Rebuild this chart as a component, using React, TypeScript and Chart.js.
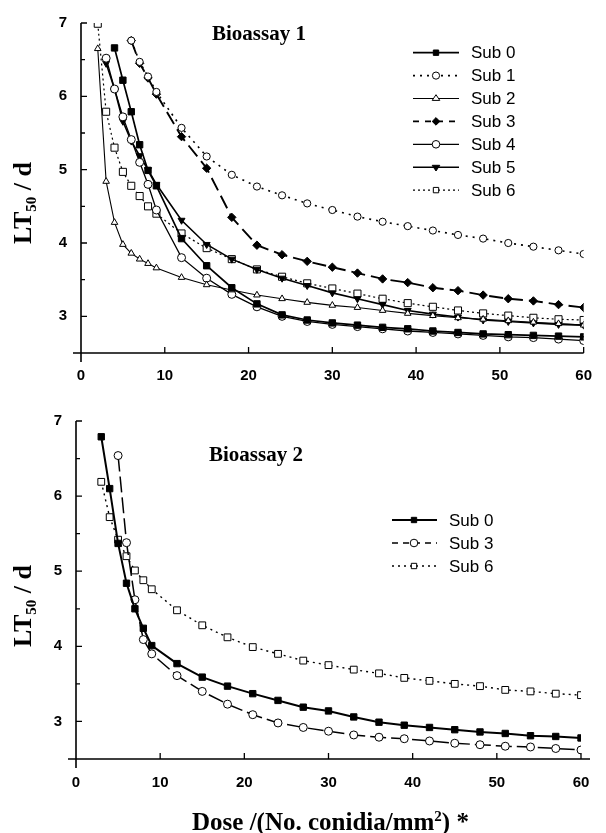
import React, { useEffect, useRef } from "react";
import { Chart, registerables } from "chart.js";
Chart.register(...registerables);

// ---------- DATA ----------
// Bioassay 1 dose grid (No. conidia/mm^2)
const doses1 = [2, 3, 4, 5, 6, 7, 8, 9, 12, 15, 18, 21, 24, 27, 30, 33, 36, 39, 42, 45, 48, 51, 54, 57, 60];
const b1Sub0 = [null, null, 6.66, 6.22, 5.79, 5.34, 4.99, 4.78, 4.06, 3.69, 3.39, 3.17, 3.02, 2.95, 2.91, 2.88, 2.85, 2.83, 2.8, 2.78, 2.76, 2.75, 2.74, 2.73, 2.72];
const b1Sub1 = [null, null, null, null, 6.76, 6.47, 6.27, 6.06, 5.57, 5.18, 4.93, 4.77, 4.65, 4.54, 4.45, 4.36, 4.29, 4.23, 4.17, 4.11, 4.06, 4.0, 3.95, 3.9, 3.85];
const b1Sub2 = [6.65, 4.84, 4.28, 3.98, 3.86, 3.78, 3.72, 3.66, 3.53, 3.43, 3.36, 3.29, 3.24, 3.19, 3.15, 3.12, 3.08, 3.04, 3.01, 2.98, 2.96, 2.94, 2.92, 2.9, 2.88];
const b1Sub3 = [null, null, null, null, 6.76, 6.45, 6.25, 6.03, 5.45, 5.02, 4.35, 3.97, 3.84, 3.75, 3.67, 3.59, 3.51, 3.46, 3.39, 3.35, 3.29, 3.24, 3.21, 3.16, 3.12];
const b1Sub4 = [null, 6.52, 6.1, 5.72, 5.41, 5.1, 4.8, 4.45, 3.8, 3.52, 3.3, 3.13, 3.0, 2.93, 2.89, 2.86, 2.83, 2.8, 2.78, 2.76, 2.74, 2.72, 2.71, 2.69, 2.67];
const b1Sub5 = [null, 6.45, 6.1, 5.66, 5.39, 5.19, 5.0, 4.8, 4.31, 3.98, 3.78, 3.64, 3.52, 3.42, 3.32, 3.24, 3.16, 3.08, 3.03, 2.99, 2.95, 2.93, 2.91, 2.89, 2.88];
const b1Sub6 = [6.99, 5.79, 5.3, 4.97, 4.78, 4.64, 4.5, 4.4, 4.13, 3.93, 3.78, 3.64, 3.54, 3.45, 3.38, 3.31, 3.24, 3.18, 3.13, 3.08, 3.04, 3.01, 2.98, 2.96, 2.95];

// Bioassay 2 dose grid
const doses2 = [3, 4, 5, 6, 7, 8, 9, 12, 15, 18, 21, 24, 27, 30, 33, 36, 39, 42, 45, 48, 51, 54, 57, 60];
const b2Sub0 = [6.79, 6.1, 5.37, 4.84, 4.5, 4.24, 4.01, 3.77, 3.59, 3.47, 3.37, 3.28, 3.19, 3.14, 3.06, 2.99, 2.95, 2.92, 2.89, 2.86, 2.84, 2.81, 2.8, 2.78];
const b2Sub3 = [null, null, 6.54, 5.38, 4.62, 4.09, 3.9, 3.61, 3.4, 3.23, 3.09, 2.98, 2.92, 2.87, 2.82, 2.79, 2.77, 2.74, 2.71, 2.69, 2.67, 2.66, 2.64, 2.62];
const b2Sub6 = [6.19, 5.72, 5.42, 5.2, 5.01, 4.88, 4.76, 4.48, 4.28, 4.12, 3.99, 3.9, 3.81, 3.75, 3.69, 3.64, 3.58, 3.54, 3.5, 3.47, 3.42, 3.4, 3.37, 3.35];

const labels1 = ["Sub 0", "Sub 1", "Sub 2", "Sub 3", "Sub 4", "Sub 5", "Sub 6"];
const labels2 = ["Sub 0", "Sub 3", "Sub 6"];
const xTicks = [0, 10, 20, 30, 40, 50, 60];
const yTicks = [3, 4, 5, 6, 7];
const yMinorTicks = [2.5, 3.5, 4.5, 5.5, 6.5];
const title1 = "Bioassay 1";
const title2 = "Bioassay 2";

// ---------- STYLES ----------
type Sty = { shape: string; filled: boolean; r: number; dash: number[]; lw: number; rot?: number };
const styles1: Sty[] = [
  { shape: "rect", filled: true, r: 4.5, dash: [], lw: 1.7 },
  { shape: "circle", filled: false, r: 3.6, dash: [2, 5], lw: 1.6 },
  { shape: "triangle", filled: false, r: 3.8, dash: [], lw: 1.1 },
  { shape: "rectRot", filled: true, r: 4.2, dash: [14, 6], lw: 1.9 },
  { shape: "circle", filled: false, r: 4, dash: [], lw: 1.3 },
  { shape: "triangle", filled: true, r: 4, dash: [], lw: 1.6, rot: 180 },
  { shape: "rect", filled: false, r: 5, dash: [2, 3], lw: 1.2 },
];
const styles2: Sty[] = [
  { shape: "rect", filled: true, r: 4.5, dash: [], lw: 2 },
  { shape: "circle", filled: false, r: 4, dash: [16, 5], lw: 1.5 },
  { shape: "rect", filled: false, r: 4.8, dash: [2, 4], lw: 1.4 },
];

function pts(xs: number[], ys: (number | null)[]) {
  const out: { x: number; y: number }[] = [];
  xs.forEach((x, i) => {
    const v = ys[i];
    if (v !== null && v !== undefined) out.push({ x, y: v });
  });
  return out;
}

function drawMarker(ctx: CanvasRenderingContext2D, s: Sty, x: number, y: number) {
  ctx.save();
  ctx.setLineDash([]);
  ctx.lineWidth = 1;
  ctx.strokeStyle = "#000";
  ctx.fillStyle = s.filled ? "#000" : "#fff";
  ctx.beginPath();
  const r = s.r;
  if (s.shape === "circle") {
    ctx.arc(x, y, r, 0, Math.PI * 2);
  } else if (s.shape === "rect") {
    const h = r * Math.SQRT1_2;
    ctx.rect(x - h, y - h, 2 * h, 2 * h);
  } else if (s.shape === "rectRot") {
    ctx.moveTo(x, y - r);
    ctx.lineTo(x + r, y);
    ctx.lineTo(x, y + r);
    ctx.lineTo(x - r, y);
    ctx.closePath();
  } else if (s.shape === "triangle") {
    const sgn = s.rot === 180 ? -1 : 1;
    const h = r * 1.5;
    ctx.moveTo(x, y - sgn * (h * 2) / 3);
    ctx.lineTo(x + r * 0.866 * 1.15, y + sgn * h / 3);
    ctx.lineTo(x - r * 0.866 * 1.15, y + sgn * h / 3);
    ctx.closePath();
  }
  ctx.fill();
  ctx.stroke();
  ctx.restore();
}

const axesPlugin = {
  id: "inwardAxes",
  afterDraw(chart: any, _a: any, opts: any) {
    const { ctx, chartArea } = chart;
    const { left, right, top, bottom } = chartArea;
    const xs = chart.scales.x;
    const ys = chart.scales.y;
    ctx.save();
    ctx.strokeStyle = "#000";
    ctx.lineWidth = 1.6;
    ctx.setLineDash([]);
    ctx.beginPath();
    ctx.moveTo(left, top);
    ctx.lineTo(left, bottom + 9);
    ctx.moveTo(left - 8, bottom);
    ctx.lineTo(right + (opts.xOver || 0), bottom);
    ctx.stroke();
    ctx.lineWidth = 1.3;
    ctx.beginPath();
    yTicks.forEach((v) => {
      const p = ys.getPixelForValue(v);
      ctx.moveTo(left, p);
      ctx.lineTo(left + 6, p);
    });
    yMinorTicks.forEach((v) => {
      const p = ys.getPixelForValue(v);
      if (v > ys.min) {
        ctx.moveTo(left, p);
        ctx.lineTo(left + 4, p);
      }
    });
    xTicks.forEach((v) => {
      if (v === 0) return;
      const p = xs.getPixelForValue(v);
      ctx.moveTo(p, bottom);
      ctx.lineTo(p, bottom - 6);
    });
    ctx.stroke();
    ctx.restore();
  },
};

const legendPlugin = {
  id: "lineLegend",
  afterDraw(chart: any, _a: any, opts: any) {
    const { ctx } = chart;
    const { items, styles, x1, x2, mx, tx, y0, dy, title, titleX, titleY } = opts;
    ctx.save();
    ctx.fillStyle = "#000";
    ctx.font = "bold 21px 'Liberation Serif', 'Times New Roman', serif";
    ctx.textBaseline = "alphabetic";
    ctx.textAlign = "left";
    ctx.fillText(title, titleX, titleY);
    items.forEach((label: string, i: number) => {
      const s: Sty = styles[i];
      const y = y0 + i * dy;
      ctx.strokeStyle = "#000";
      ctx.lineWidth = s.lw;
      ctx.setLineDash(s.dash.length ? s.dash.map((d: number) => Math.min(d, 6)) : []);
      ctx.beginPath();
      ctx.moveTo(x1, y);
      ctx.lineTo(x2, y);
      ctx.stroke();
      drawMarker(ctx, { ...s, r: Math.min(s.r, 3.8) }, mx, y);
      ctx.fillStyle = "#000";
      ctx.font = "17px 'Liberation Sans', Arial, sans-serif";
      ctx.textBaseline = "middle";
      ctx.fillText(label, tx, y + 1);
    });
    ctx.restore();
  },
};

function buildConfig(
  doses: number[],
  series: (number | null)[][],
  labels: string[],
  styles: Sty[],
  geom: { yWidth: number; xHeight: number; pad: any; xPad: number },
  legend: any,
  xOver: number
): any {
  return {
    type: "line",
    data: {
      datasets: series.map((vals, i) => {
        const s = styles[i];
        return {
          label: labels[i],
          data: pts(doses, vals),
          borderColor: "#000",
          backgroundColor: s.filled ? "#000" : "#fff",
          borderWidth: s.lw,
          borderDash: s.dash,
          pointStyle: s.shape,
          pointRotation: s.rot || 0,
          pointRadius: s.r,
          pointBorderWidth: 1,
          pointBorderColor: "#000",
          pointBackgroundColor: s.filled ? "#000" : "#fff",
          tension: 0,
          fill: false,
          spanGaps: false,
        };
      }),
    },
    options: {
      responsive: false,
      animation: false,
      devicePixelRatio: 1,
      layout: { padding: geom.pad },
      plugins: {
        legend: { display: false },
        tooltip: { enabled: false },
        inwardAxes: { xOver },
        lineLegend: legend,
      },
      scales: {
        x: {
          type: "linear",
          min: 0,
          max: 60,
          grid: { display: false, drawTicks: false },
          border: { display: false },
          afterBuildTicks: (sc: any) => {
            sc.ticks = xTicks.map((v) => ({ value: v }));
          },
          afterFit: (sc: any) => {
            sc.height = geom.xHeight;
          },
          ticks: {
            color: "#000",
            padding: geom.xPad,
            maxRotation: 0,
            autoSkip: false,
            font: { family: "'Liberation Sans', Arial, sans-serif", size: 15, weight: "bold" },
          },
        },
        y: {
          type: "linear",
          min: 2.5,
          max: 7,
          grid: { display: false, drawTicks: false },
          border: { display: false },
          afterBuildTicks: (sc: any) => {
            sc.ticks = yTicks.map((v) => ({ value: v }));
          },
          afterFit: (sc: any) => {
            sc.width = geom.yWidth;
          },
          ticks: {
            color: "#000",
            padding: 14,
            autoSkip: false,
            font: { family: "'Liberation Sans', Arial, sans-serif", size: 15, weight: "bold" },
          },
        },
      },
    },
    plugins: [axesPlugin, legendPlugin],
  };
}

function useChart(ref: React.RefObject<HTMLCanvasElement>, cfg: () => any) {
  useEffect(() => {
    if (!ref.current) return;
    const chart = new Chart(ref.current, cfg());
    return () => chart.destroy();
  }, []);
}

const serif = "'Liberation Serif', 'Times New Roman', serif";

function YTitle({ cx, cy }: { cx: number; cy: number }) {
  return (
    <div
      style={{
        position: "absolute",
        left: cx,
        top: cy,
        transform: "translate(-50%, -50%) rotate(-90deg)",
        fontFamily: serif,
        fontWeight: "bold",
        fontSize: 26,
        lineHeight: 1,
        whiteSpace: "nowrap",
        color: "#000",
      }}
    >
      LT<sub style={{ fontSize: 15, verticalAlign: "-5px" }}>50</sub> / d
    </div>
  );
}

export default function App() {
  const c1 = useRef<HTMLCanvasElement>(null);
  const c2 = useRef<HTMLCanvasElement>(null);

  useChart(c1, () =>
    buildConfig(
      doses1,
      [b1Sub0, b1Sub1, b1Sub2, b1Sub3, b1Sub4, b1Sub5, b1Sub6],
      labels1,
      styles1,
      { yWidth: 81, xHeight: 42, pad: { left: 0, top: 15, right: 20, bottom: 0 }, xPad: 14 },
      {
        items: labels1,
        styles: styles1,
        x1: 413,
        x2: 459,
        mx: 436,
        tx: 471,
        y0: 52.7,
        dy: 22.9,
        title: title1,
        titleX: 212,
        titleY: 40,
      },
      0
    )
  );
  useChart(c2, () =>
    buildConfig(
      doses2,
      [b2Sub0, b2Sub3, b2Sub6],
      labels2,
      styles2,
      { yWidth: 76, xHeight: 74, pad: { left: 0, top: 26, right: 25, bottom: 0 }, xPad: 15 },
      {
        items: labels2,
        styles: styles2,
        x1: 392,
        x2: 437,
        mx: 414,
        tx: 449,
        y0: 125,
        dy: 23,
        title: title2,
        titleX: 209,
        titleY: 66,
      },
      9
    )
  );

  return (
    <div style={{ position: "absolute", left: 0, top: 0, width: 606, height: 833, background: "#fff" }}>
      <canvas ref={c1} width={606} height={395} style={{ position: "absolute", left: 0, top: 0, display: "block" }} />
      <canvas ref={c2} width={606} height={438} style={{ position: "absolute", left: 0, top: 395, display: "block" }} />
      <YTitle cx={24} cy={203} />
      <YTitle cx={24} cy={606} />
      <div
        style={{
          position: "absolute",
          left: 192,
          top: 809,
          fontFamily: serif,
          fontWeight: "bold",
          fontSize: 25,
          lineHeight: 1,
          whiteSpace: "nowrap",
          color: "#000",
        }}
      >
        Dose /(No. conidia/mm<sup style={{ fontSize: 15, verticalAlign: "9px" }}>2</sup>) *
      </div>
    </div>
  );
}
